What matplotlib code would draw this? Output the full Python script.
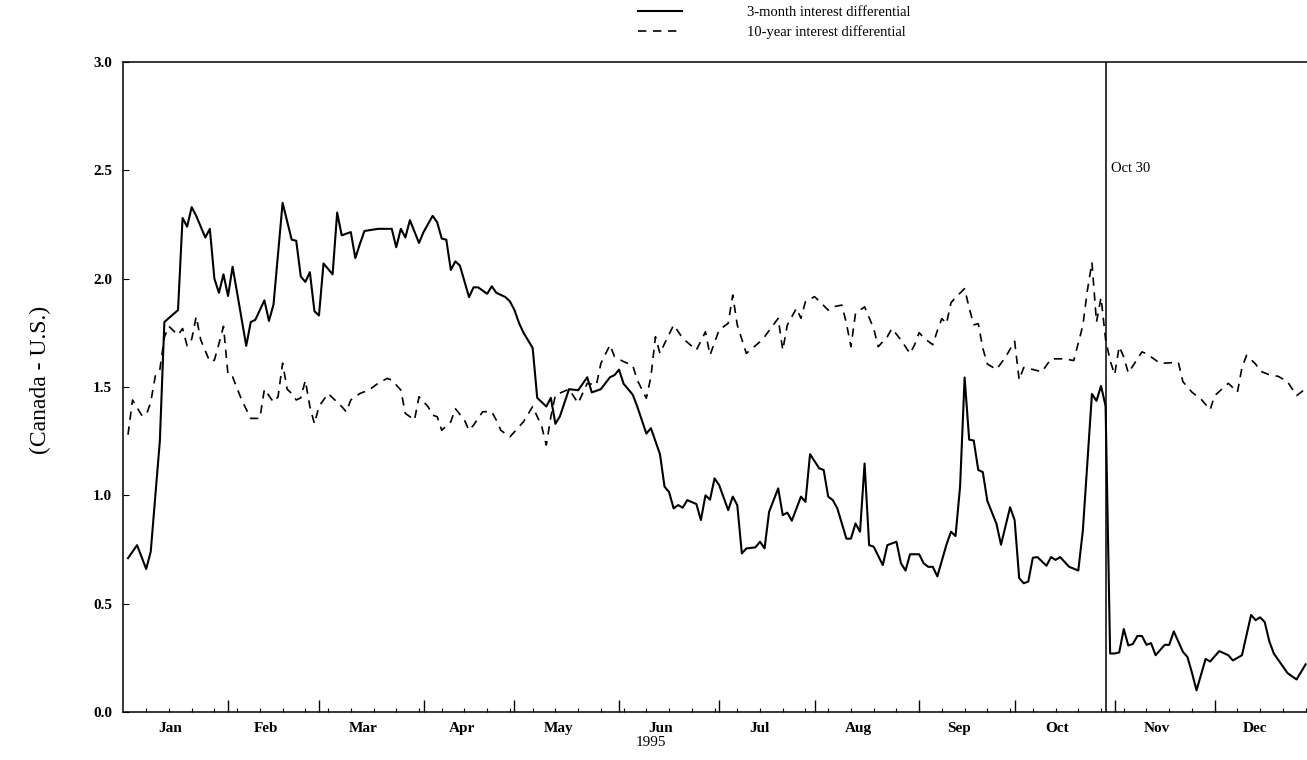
import numpy as np
import matplotlib
matplotlib.use("Agg")
import matplotlib.pyplot as plt
from matplotlib.ticker import FixedLocator, NullFormatter

plt.rcParams['font.family'] = ['Liberation Serif', 'DejaVu Serif']

# trading days since 2 Jan 1995 and the Canada - U.S. spreads (percentage points)
three_month_day = [
    0, 2, 4, 5, 7, 8, 11, 12, 13, 14, 15, 17, 18, 19, 20, 21, 22, 23, 24, 26,
    27, 28, 30, 31, 32, 34, 36, 37, 38, 39, 40, 41, 42, 43, 45, 46, 47, 49, 50, 51,
    52, 55, 58, 59, 60, 61, 62, 64, 65, 67, 68, 69, 70, 71, 72, 73, 75, 76, 77, 79,
    80, 81, 83, 84, 85, 86, 87, 89, 90, 92, 93, 94, 95, 97, 99, 101, 102, 104, 106, 107,
    108, 109, 111, 112, 114, 115, 117, 118, 119, 120, 121, 122, 123, 125, 126, 127, 128, 129, 130, 132,
    133, 134, 135, 136, 138, 139, 140, 141, 143, 144, 145, 146, 148, 149, 150, 152, 153, 154, 155, 156,
    158, 159, 160, 161, 162, 163, 164, 166, 167, 169, 170, 171, 172, 174, 175, 176, 177, 178, 180, 181,
    182, 183, 184, 185, 186, 187, 188, 189, 191, 192, 194, 195, 196, 197, 198, 199, 200, 202, 203, 204,
    205, 207, 209, 210, 212, 213, 214, 215, 216, 217, 218, 219, 220, 221, 222, 223, 224, 225, 226, 228,
    229, 230, 232, 233, 234, 235, 237, 238, 240, 242, 243, 245, 247, 248, 249, 250, 251, 252, 255, 257,
    259]
three_month_value = [
    0.71, 0.77, 0.66, 0.74, 1.25, 1.80, 1.855, 2.28, 2.24, 2.33, 2.29, 2.19, 2.23, 2.00, 1.935, 2.02, 1.92, 2.055, 1.935, 1.69,
    1.80, 1.81, 1.90, 1.805, 1.88, 2.35, 2.18, 2.175, 2.01, 1.985, 2.03, 1.85, 1.83, 2.07, 2.02, 2.305, 2.20, 2.215, 2.095, 2.16,
    2.22, 2.23, 2.23, 2.145, 2.23, 2.19, 2.27, 2.165, 2.215, 2.29, 2.26, 2.185, 2.18, 2.04, 2.08, 2.06, 1.915, 1.96, 1.96, 1.93,
    1.965, 1.935, 1.915, 1.895, 1.855, 1.795, 1.75, 1.68, 1.45, 1.41, 1.45, 1.33, 1.365, 1.49, 1.485, 1.545, 1.475, 1.49, 1.545, 1.555,
    1.58, 1.515, 1.465, 1.41, 1.285, 1.31, 1.19, 1.04, 1.015, 0.94, 0.955, 0.943, 0.978, 0.96, 0.886, 1.00, 0.98, 1.078, 1.048, 0.932,
    0.994, 0.955, 0.732, 0.755, 0.76, 0.786, 0.755, 0.924, 1.032, 0.909, 0.92, 0.883, 0.994, 0.97, 1.19, 1.125, 1.117, 0.994, 0.978, 0.94,
    0.80, 0.80, 0.87, 0.832, 1.147, 0.77, 0.763, 0.678, 0.77, 0.786, 0.686, 0.653, 0.728, 0.728, 0.686, 0.67, 0.67, 0.626, 0.772, 0.832,
    0.812, 1.04, 1.544, 1.257, 1.253, 1.117, 1.107, 0.974, 0.869, 0.772, 0.945, 0.885, 0.618, 0.594, 0.602, 0.712, 0.715, 0.675, 0.715, 0.702,
    0.715, 0.67, 0.653, 0.837, 1.468, 1.436, 1.505, 1.412, 0.27, 0.27, 0.275, 0.383, 0.307, 0.314, 0.351, 0.351, 0.31, 0.318, 0.262, 0.31,
    0.31, 0.372, 0.278, 0.254, 0.181, 0.10, 0.245, 0.233, 0.281, 0.262, 0.238, 0.262, 0.448, 0.424, 0.437, 0.415, 0.327, 0.27, 0.18, 0.15,
    0.22]

ten_year_day = [
    0, 1, 3, 4, 5, 6, 7, 8, 9, 11, 12, 13, 14, 15, 16, 18, 19, 20, 21, 22,
    23, 25, 27, 29, 30, 32, 33, 34, 35, 36, 37, 38, 39, 40, 41, 42, 44, 47, 48, 49,
    51, 53, 55, 57, 58, 60, 61, 62, 63, 64, 66, 67, 68, 69, 71, 72, 74, 75, 76, 78,
    80, 81, 82, 84, 87, 89, 91, 92, 93, 94, 97, 99, 101, 103, 104, 106, 107, 109, 111, 112,
    114, 115, 116, 117, 118, 120, 122, 125, 127, 128, 130, 132, 133, 134, 136, 139, 140, 143, 144, 145,
    147, 148, 149, 151, 154, 155, 157, 158, 159, 160, 162, 164, 165, 167, 168, 170, 172, 173, 174, 175,
    177, 178, 179, 180, 181, 182, 184, 185, 186, 187, 188, 189, 191, 193, 195, 196, 197, 199, 201, 203,
    206, 208, 210, 211, 212, 213, 214, 215, 216, 217, 218, 219, 220, 222, 223, 224, 227, 231, 232, 234,
    236, 238, 239, 242, 244, 245, 246, 248, 249, 251, 253, 255, 257, 259]
ten_year_value = [
    1.28, 1.44, 1.37, 1.37, 1.43, 1.55, 1.58, 1.73, 1.78, 1.74, 1.77, 1.69, 1.72, 1.825, 1.717, 1.617, 1.624, 1.70, 1.78, 1.555,
    1.547, 1.44, 1.355, 1.355, 1.49, 1.43, 1.455, 1.61, 1.49, 1.47, 1.44, 1.45, 1.53, 1.41, 1.33, 1.41, 1.47, 1.41, 1.385, 1.44,
    1.47, 1.486, 1.517, 1.54, 1.532, 1.486, 1.378, 1.363, 1.347, 1.455, 1.409, 1.37, 1.363, 1.30, 1.34, 1.40, 1.347, 1.30, 1.324, 1.386,
    1.386, 1.347, 1.30, 1.27, 1.34, 1.41, 1.317, 1.232, 1.363, 1.463, 1.49, 1.425, 1.517, 1.509, 1.609, 1.694, 1.64, 1.617, 1.60, 1.532,
    1.448, 1.547, 1.732, 1.655, 1.70, 1.786, 1.725, 1.67, 1.755, 1.647, 1.763, 1.794, 1.924, 1.786, 1.655, 1.709, 1.732, 1.817, 1.67, 1.786,
    1.863, 1.817, 1.894, 1.917, 1.855, 1.87, 1.878, 1.794, 1.686, 1.84, 1.87, 1.77, 1.686, 1.732, 1.77, 1.717, 1.654, 1.695, 1.751, 1.727,
    1.695, 1.76, 1.816, 1.792, 1.889, 1.913, 1.954, 1.865, 1.787, 1.792, 1.679, 1.606, 1.581, 1.638, 1.711, 1.533, 1.59, 1.581, 1.57, 1.63,
    1.63, 1.622, 1.784, 1.946, 2.075, 1.80, 1.913, 1.72, 1.622, 1.557, 1.687, 1.638, 1.565, 1.63, 1.662, 1.654, 1.609, 1.614, 1.525, 1.476,
    1.444, 1.395, 1.46, 1.517, 1.476, 1.59, 1.646, 1.606, 1.573, 1.557, 1.549, 1.525, 1.46, 1.492]

month_names = ['Jan', 'Feb', 'Mar', 'Apr', 'May', 'Jun', 'Jul', 'Aug', 'Sep', 'Oct', 'Nov', 'Dec']
month_starts = ['1995-01-02', '1995-02-01', '1995-03-01', '1995-04-03', '1995-05-01', '1995-06-01',
                '1995-07-03', '1995-08-01', '1995-09-01', '1995-10-02', '1995-11-01', '1995-12-01']
event_date = '1995-10-30'
event_label = 'Oct 30'
y_ticks = [0.0, 0.5, 1.0, 1.5, 2.0, 2.5, 3.0]

# convert calendar dates to trading-day positions
start = np.datetime64('1995-01-02')
month_idx = np.busday_count(start, np.array(month_starts, dtype='datetime64[D]'))
month_end = np.append(month_idx[1:], np.busday_count(start, np.datetime64('1996-01-01')))
label_pos = month_idx + 0.42 * (month_end - month_idx)
event_idx = np.busday_count(start, np.datetime64(event_date))

fig = plt.figure(figsize=(13.07, 7.6), dpi=100)
ax = fig.add_axes([123 / 1307, 48 / 760, 1 - 123 / 1307, 650 / 760])

ax.plot(three_month_day, three_month_value, color='black', lw=1.5,
        label='3-month interest differential')
ax.plot(ten_year_day, ten_year_value, color='black', lw=1.2, linestyle=(0, (5, 4)),
        label='10-year interest differential')

ax.axvline(event_idx, color='black', lw=1.1)
ax.text(event_idx + 1.2, 2.51, event_label, fontsize=10.5, va='center', ha='left')

ax.set_xlim(-1.1, 259.3)
ax.set_ylim(0, 3.0)

# month labels between boundaries, tall ticks at month starts, short weekly ticks
ax.xaxis.set_major_locator(FixedLocator(label_pos))
ax.set_xticklabels(month_names, fontsize=11, fontweight='bold')
ax.tick_params(axis='x', which='major', length=0, pad=7)
ax.xaxis.set_minor_locator(FixedLocator(np.arange(4, 260, 5)))
ax.tick_params(axis='x', which='minor', direction='in', length=3, width=0.8)
sec = ax.secondary_xaxis('bottom')
sec.set_xticks(month_idx[1:])
sec.xaxis.set_major_formatter(NullFormatter())
sec.tick_params(direction='in', length=9, width=1)
sec.spines['bottom'].set_visible(False)

ax.set_yticks(y_ticks)
ax.set_yticklabels([f'{v:.1f}' for v in y_ticks], fontsize=11, fontweight='bold')
ax.tick_params(axis='y', direction='in', length=4, width=0.8, pad=8)

ax.spines['right'].set_visible(False)
for s in ['left', 'top', 'bottom']:
    ax.spines[s].set_linewidth(1.1)

fig.text(40 / 1307, 1 - 380 / 760, '(Canada - U.S.)', rotation=90, fontsize=17,
         ha='center', va='center')
fig.text(651 / 1307, 1 - 742 / 760, '1995', fontsize=11, ha='center', va='center')

fig.legend(loc='upper left', bbox_to_anchor=(632 / 1307, 1.0), frameon=False,
           fontsize=10.5, handlelength=3.0, handletextpad=4.5, labelspacing=0.45,
           borderaxespad=0.0)

fig.savefig('out.png', dpi=100)
